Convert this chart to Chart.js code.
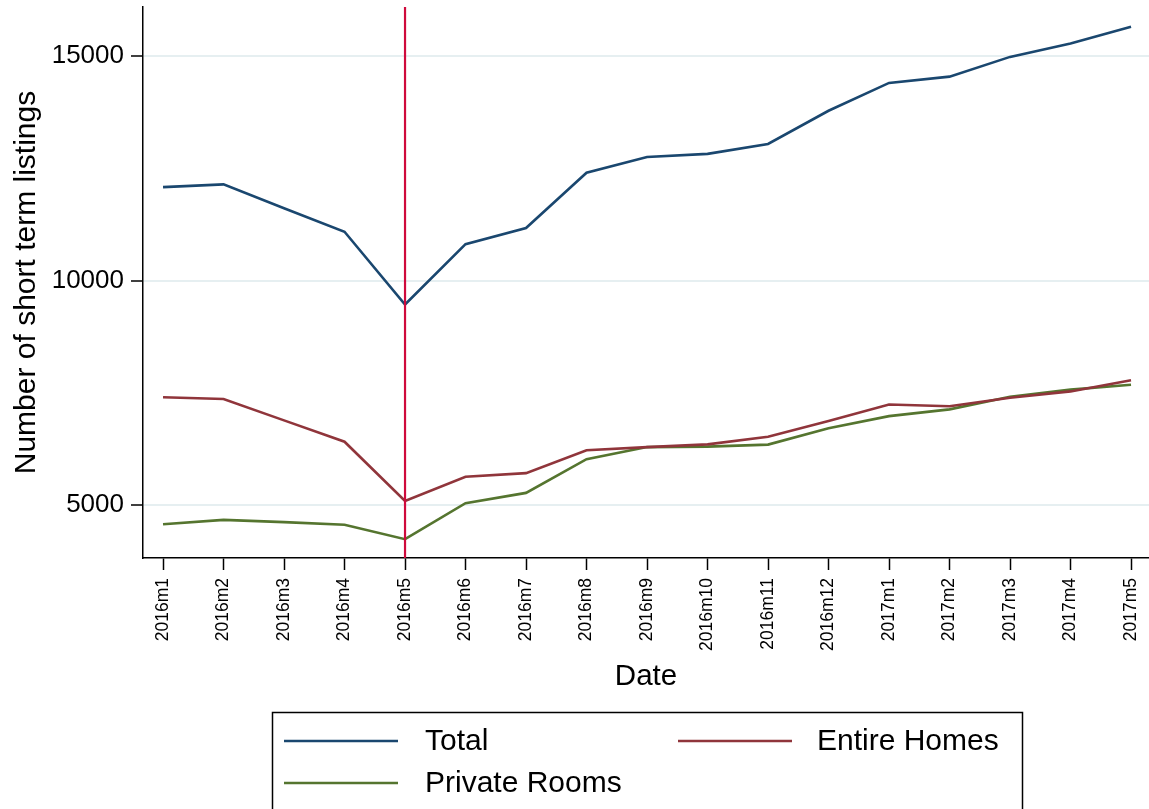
<!DOCTYPE html>
<html>
<head>
<meta charset="utf-8">
<script src="https://cdn.jsdelivr.net/npm/chart.js@4.4.1/dist/chart.umd.min.js"></script>
<style>
  html, body { margin: 0; padding: 0; background: #ffffff; }
</style>
</head>
<body>
<canvas id="listings-chart" width="1149" height="809"></canvas>
<script>
const months = ['2016m1', '2016m2', '2016m3', '2016m4', '2016m5', '2016m6', '2016m7', '2016m8', '2016m9',
  '2016m10', '2016m11', '2016m12', '2017m1', '2017m2', '2017m3', '2017m4', '2017m5'];
const total = [12080, 12140, 11610, 11085, 9465, 10810, 11170, 12400, 12750, 12820, 13040, 13780, 14400, 14540, 14980, 15280, 15650];
const entireHomes = [7400, 7360, 6885, 6410, 5090, 5630, 5710, 6220, 6290, 6350, 6520, 6870, 7240, 7200, 7390, 7530, 7780];
const privateRooms = [4570, 4670, 4620, 4560, 4240, 5040, 5270, 6020, 6290, 6300, 6345, 6710, 6980, 7130, 7410, 7570, 7680];
const yTicks = [5000, 10000, 15000];
const eventMonth = '2016m5';

const FONT = 'Liberation Sans, Arial, Helvetica, sans-serif';

const toPoints = (values) => values.map((v, i) => ({ x: i, y: v }));

// red vertical line at the event month, drawn on top of the series
const eventLine = {
  id: 'eventLine',
  afterDatasetsDraw(chart) {
    const { ctx, chartArea, scales } = chart;
    const x = scales.x.getPixelForValue(months.indexOf(eventMonth));
    ctx.save();
    ctx.strokeStyle = '#cf0a3c';
    ctx.lineWidth = 2.2;
    ctx.beginPath();
    ctx.moveTo(x, chartArea.top);
    ctx.lineTo(x, chartArea.bottom);
    ctx.stroke();
    ctx.restore();
  },
};

// Stata style boxed legend, two columns
const boxLegend = {
  id: 'boxLegend',
  afterDraw(chart) {
    const { ctx } = chart;
    const slots = [
      { lx: 284, tx: 425, y: 741 },
      { lx: 678, tx: 817, y: 741 },
      { lx: 284, tx: 425, y: 783 },
    ];
    ctx.save();
    ctx.strokeStyle = '#000000';
    ctx.lineWidth = 1.5;
    ctx.strokeRect(272.5, 712.5, 750, 110);
    ctx.font = '30px ' + FONT;
    ctx.textBaseline = 'middle';
    ctx.fillStyle = '#000000';
    chart.data.datasets.forEach((ds, i) => {
      const s = slots[i];
      ctx.strokeStyle = ds.borderColor;
      ctx.lineWidth = 2.5;
      ctx.beginPath();
      ctx.moveTo(s.lx, s.y);
      ctx.lineTo(s.lx + 114, s.y);
      ctx.stroke();
      ctx.fillText(ds.label, s.tx, s.y + 1);
    });
    ctx.restore();
  },
};

new Chart(document.getElementById('listings-chart'), {
  type: 'line',
  data: {
    datasets: [
      { label: 'Total', data: toPoints(total), borderColor: '#1a476f' },
      { label: 'Entire Homes', data: toPoints(entireHomes), borderColor: '#90353b' },
      { label: 'Private Rooms', data: toPoints(privateRooms), borderColor: '#55752f' },
    ],
  },
  options: {
    responsive: false,
    animation: false,
    events: [],
    layout: { padding: { top: 7, right: 0, bottom: 114, left: 0 } },
    elements: {
      line: { borderWidth: 2.6, tension: 0, fill: false },
      point: { radius: 0 },
    },
    plugins: {
      legend: { display: false },
      tooltip: { enabled: false },
    },
    scales: {
      x: {
        type: 'linear',
        min: -0.331,
        max: 16.297,
        afterBuildTicks: (scale) => { scale.ticks = months.map((m, i) => ({ value: i })); },
        afterFit: (scale) => {
          scale.height = 137;
          scale.paddingLeft = 0;
          scale.paddingRight = 0;
        },
        ticks: {
          autoSkip: false,
          minRotation: 90,
          maxRotation: 90,
          padding: 8,
          color: '#000000',
          font: { family: FONT, size: 17.5 },
          callback: (value) => months[value],
        },
        grid: {
          drawOnChartArea: false,
          drawTicks: true,
          tickLength: 12,
          tickColor: '#000000',
          tickWidth: 1.5,
        },
        border: { display: true, color: '#000000', width: 1.5 },
        title: {
          display: true,
          text: 'Date',
          color: '#000000',
          font: { family: FONT, size: 29.5 },
          padding: 0,
        },
      },
      y: {
        min: 3820,
        max: 16091,
        afterBuildTicks: (scale) => { scale.ticks = yTicks.map((v) => ({ value: v })); },
        afterFit: (scale) => {
          scale.width = 143;
          scale.paddingTop = 0;
          scale.paddingBottom = 0;
        },
        ticks: {
          padding: 7,
          color: '#000000',
          font: { family: FONT, size: 26 },
          callback: (value) => String(value),
        },
        grid: {
          color: '#e6eff1',
          lineWidth: 2,
          drawTicks: true,
          tickLength: 12,
          tickColor: '#000000',
          tickWidth: 1.5,
        },
        border: { display: true, color: '#000000', width: 1.5 },
        title: {
          display: true,
          text: 'Number of short term listings',
          color: '#000000',
          font: { family: FONT, size: 30 },
          padding: { top: 9, bottom: 0 },
        },
      },
    },
  },
  plugins: [eventLine, boxLegend],
});
</script>
</body>
</html>
